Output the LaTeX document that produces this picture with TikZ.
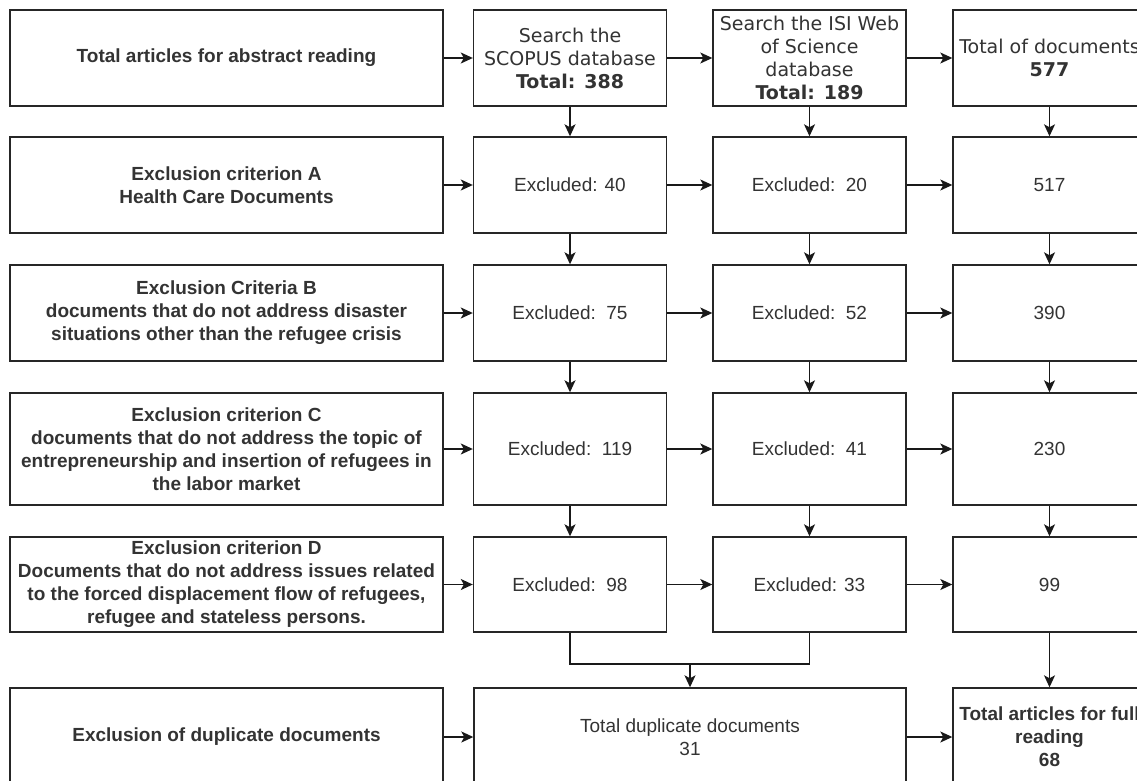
\documentclass[tikz,border=0pt]{standalone}
\usepackage{fontspec}
\setmainfont{Liberation Sans}
\newfontfamily\dejavu{DejaVu Sans}
\usetikzlibrary{arrows.meta}

\begin{document}
\begin{tikzpicture}[x=1pt, y=-1pt,
  box/.style={draw=black!85, line width=1.4pt, fill=white, inner sep=0pt,
              align=center, text=black!80, font=\fontsize{19}{23}\selectfont},
  wide/.style={box, minimum width=433pt},
  col/.style={box, minimum width=193pt},
  dv/.style={font=\dejavu\fontsize{19}{23}\selectfont},
  heavy/.style={font=\bfseries\fontsize{19}{23}\selectfont},
  arr/.style={line width=1.4pt, draw=black!90,
              -{Stealth[length=12pt, width=11pt, inset=3pt]}},
  link/.style={line width=1.4pt, draw=black!90}]
\useasboundingbox (0,0) rectangle (1137,781);
\clip (0,0) rectangle (1137,781);

% row 1: sources
\node[wide, heavy, minimum height=96pt] (l1) at (226.5,58) {Total articles for abstract reading};
\node[col, dv, minimum height=96pt] (s1) at (570,58) {Search the\\SCOPUS database\\\textbf{Total: 388}};
\node[col, dv, minimum height=96pt] (i1) at (809.5,58) {Search the ISI Web\\of Science\\database\\\textbf{Total: 189}};
\node[col, dv, minimum height=96pt] (t1) at (1049.5,58) {Total of documents\\\textbf{577}};

% row 2: criterion A
\node[wide, heavy, minimum height=96pt] (l2) at (226.5,185) {Exclusion criterion A\\Health Care Documents};
\node[col, minimum height=96pt] (s2) at (570,185) {Excluded: 40};
\node[col, minimum height=96pt] (i2) at (809.5,185) {Excluded:\ \ 20};
\node[col, minimum height=96pt] (t2) at (1049.5,185) {517};

% row 3: criterion B
\node[wide, heavy, minimum height=96pt] (l3) at (226.5,313) {Exclusion Criteria B\\documents that do not address disaster\\situations other than the refugee crisis};
\node[col, minimum height=96pt] (s3) at (570,313) {Excluded:\ \ 75};
\node[col, minimum height=96pt] (i3) at (809.5,313) {Excluded:\ \ 52};
\node[col, minimum height=96pt] (t3) at (1049.5,313) {390};

% row 4: criterion C
\node[wide, heavy, minimum height=112pt] (l4) at (226.5,449) {Exclusion criterion C\\documents that do not address the topic of\\entrepreneurship and insertion of refugees in\\the labor market};
\node[col, minimum height=112pt] (s4) at (570,449) {Excluded:\ \ 119};
\node[col, minimum height=112pt] (i4) at (809.5,449) {Excluded:\ \ 41};
\node[col, minimum height=112pt] (t4) at (1049.5,449) {230};

% row 5: criterion D
\node[wide, heavy, minimum height=95pt] (l5) at (226.5,584.5) {Exclusion criterion D\\Documents that do not address issues related\\to the forced displacement flow of refugees,\\refugee and stateless persons.};
\node[col, minimum height=95pt] (s5) at (570,584.5) {Excluded:\ \ 98};
\node[col, minimum height=95pt] (i5) at (809.5,584.5) {Excluded: 33};
\node[col, minimum height=95pt] (t5) at (1049.5,584.5) {99};

% row 6: duplicates and result
\node[wide, heavy, minimum height=98pt] (l6) at (226.5,737) {Exclusion of duplicate documents};
\node[box, minimum width=432pt, minimum height=98pt] (dup) at (690,737) {Total duplicate documents\\31};
\node[col, heavy, minimum height=98pt] (t6) at (1049.5,737) {Total articles for full\\reading\\68};

% horizontal flow
\foreach \r in {1,...,5}{
  \draw[arr] (l\r) -- (s\r);
  \draw[arr] (s\r) -- (i\r);
  \draw[arr] (i\r) -- (t\r);
}
\draw[arr] (l6) -- (dup);
\draw[arr] (dup) -- (t6);

% vertical flow
\foreach \a/\b in {1/2,2/3,3/4,4/5}{
  \draw[arr] (s\a) -- (s\b);
  \draw[arr] (i\a) -- (i\b);
  \draw[arr] (t\a) -- (t\b);
}
\draw[arr] (t5) -- (t6);

% both databases merge into the duplicate count
\coordinate (merge) at (690,664);
\draw[link] (s5.south) -- (s5.south |- merge) -- (i5.south |- merge) -- (i5.south);
\draw[arr] (merge) -- (dup.north);
\end{tikzpicture}
\end{document}
